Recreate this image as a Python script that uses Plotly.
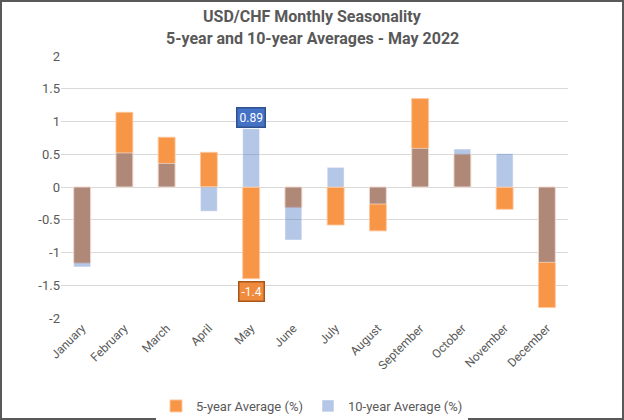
import plotly.graph_objects as go

months = ["January", "February", "March", "April", "May", "June", "July",
          "August", "September", "October", "November", "December"]
avg5 = [-1.16, 1.14, 0.76, 0.53, -1.40, -0.31, -0.58, -0.67, 1.35, 0.50, -0.34, -1.84]
avg10 = [-1.22, 0.52, 0.36, -0.37, 0.89, -0.81, 0.30, -0.26, 0.59, 0.58, 0.51, -1.15]
ytick_vals = [2, 1.5, 1, 0.5, 0, -0.5, -1, -1.5, -2]
ytick_text = ["2", "1.5", "1", "0.5", "0", "-0.5", "-1", "-1.5", "-2"]
title_lines = ["USD/CHF Monthly Seasonality", "5-year and 10-year Averages - May 2022"]
series_names = ["5-year Average (%)", "10-year Average (%)"]

W, H = 624, 420
ml, mr, mt, mb = 61, 56, 56, 102
pw, ph = W - ml - mr, H - mt - mb

fig = go.Figure()
fig.add_trace(go.Bar(
    x=months, y=avg5, name=series_names[0],
    marker=dict(color="#f79646", line=dict(color="rgba(255,200,160,0.9)", width=1)),
    width=0.4,
))
fig.add_trace(go.Bar(
    x=months, y=avg10, name=series_names[1],
    marker=dict(color="rgba(68,114,196,0.4)", line=dict(color="rgba(255,255,255,0.5)", width=1)),
    width=0.4,
))

# data labels for May
i = months.index("May")
fig.add_annotation(x=months[i], y=avg10[i], text=f"{avg10[i]:.2f}", showarrow=False,
                   yanchor="bottom", yshift=1, bgcolor="#4472c4", bordercolor="#2f528f",
                   borderwidth=1.5, borderpad=2, font=dict(color="white", size=12, family="Roboto"))
fig.add_annotation(x=months[i], y=avg5[i], text=f"{avg5[i]:.1f}", showarrow=False,
                   yanchor="top", yshift=-2, bgcolor="#f08a3c", bordercolor="#a8561c",
                   borderwidth=1.5, borderpad=2, font=dict(color="white", size=12, family="Roboto"))

# title lines
for txt, ypx in zip(title_lines, [17, 38]):
    fig.add_annotation(xref="paper", yref="paper", x=0.5 - (ml - mr) / 2 / pw,
                       y=1 + (mt - ypx) / ph, text="<b>" + txt + "</b>", showarrow=False,
                       xanchor="center", yanchor="middle",
                       font=dict(size=16, color="#595959", family="Roboto"))

# outer border
fig.add_shape(type="rect", xref="paper", yref="paper",
              x0=-(ml - 1) / pw, x1=1 + (mr - 1) / pw,
              y0=-(mb - 1) / ph, y1=1 + (mt - 1) / ph,
              line=dict(color="#595959", width=2), layer="above")

fig.update_layout(
    width=W, height=H,
    margin=dict(l=ml, r=mr, t=mt, b=mb, autoexpand=False),
    paper_bgcolor="white", plot_bgcolor="white",
    barmode="overlay",
    font=dict(family="Roboto", color="#595959", size=12),
    legend=dict(orientation="h", x=0.5 - (ml - mr) / 2 / pw, xanchor="center",
                y=-(406 - mt - ph) / ph, yanchor="middle",
                font=dict(size=13, color="#595959"),
                itemwidth=30, traceorder="normal"),
    xaxis=dict(tickangle=-45, showgrid=False, showline=False, ticks="", automargin=False,
               tickfont=dict(size=12, color="#595959")),
    yaxis=dict(range=[-2, 2], tickvals=ytick_vals, ticktext=ytick_text, automargin=False,
               gridcolor="#d9d9d9", gridwidth=1, zeroline=True, zerolinecolor="#d9d9d9",
               zerolinewidth=1, showline=False, ticks="", ticklen=0,
               tickfont=dict(size=13, color="#595959")),
)

fig.write_html("out.html", config={"displayModeBar": False},
               post_script="document.body.style.margin='0';")
